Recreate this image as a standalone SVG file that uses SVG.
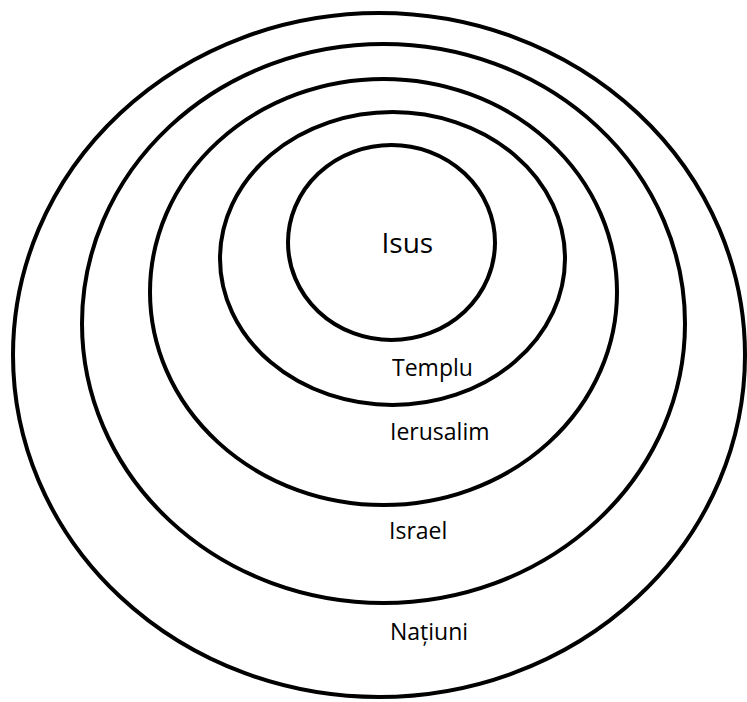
<svg xmlns="http://www.w3.org/2000/svg" width="747" height="702" viewBox="0 0 747 702">
  <style>
    .ring { fill: none; stroke: #000; stroke-width: 4; }
    .lbl { font-family: "Open Sans", "Noto Sans", "DejaVu Sans", sans-serif; font-size: 23px; fill: #000; }
    .big { font-size: 28px; }
  </style>
  <rect width="747" height="702" fill="#fff"/>
  <g id="natiuni">
    <ellipse class="ring" cx="379" cy="355" rx="366" ry="342"/>
    <text class="lbl" x="390" y="640">Națiuni</text>
  </g>
  <g id="israel">
    <ellipse class="ring" cx="383.5" cy="323.5" rx="301.5" ry="279.5"/>
    <text class="lbl" x="389" y="539">Israel</text>
  </g>
  <g id="ierusalim">
    <ellipse class="ring" cx="383.5" cy="292" rx="233.5" ry="213"/>
    <text class="lbl" x="390" y="440">Ierusalim</text>
  </g>
  <g id="templu">
    <ellipse class="ring" cx="392.5" cy="258.5" rx="172.5" ry="146.5"/>
    <text class="lbl" x="392" y="375.5">Templu</text>
  </g>
  <g id="isus">
    <ellipse class="ring" cx="391.5" cy="242.5" rx="103.5" ry="97.5"/>
    <text class="lbl big" x="381.5" y="253">Isus</text>
  </g>
  <g id="connectors"/>
</svg>
